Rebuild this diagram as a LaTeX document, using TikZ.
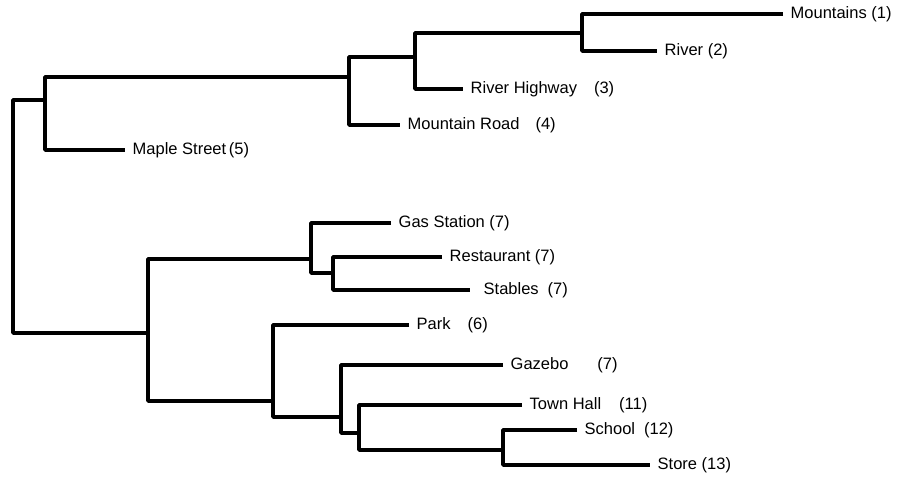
\documentclass[tikz,border=0pt]{standalone}
\usepackage{fontspec}
\setmainfont{Liberation Sans}
\usetikzlibrary{positioning}

\begin{document}
\begin{tikzpicture}[x=1pt, y=-1pt, line width=3.4pt, line join=round,
	every node/.style={font=\fontsize{16.5}{18}\selectfont, anchor=west, inner xsep=6pt, inner ysep=0pt}]
	\useasboundingbox (0,0) rectangle (898,481);
	% leaves, placed where their branches end
	\node (mountains) at (783,14) {Mountains (1)};
	\node (river) at (657,51) {River (2)};
	\node (riverhwy) at (463,89) {River Highway\hspace{17pt}(3)};
	\node (mtnroad) at (400,125) {Mountain Road\hspace{16pt}(4)};
	\node (maple) at (125,150) {Maple Street\,(5)};
	\node (gas) at (391,223) {Gas Station (7)};
	\node (restaurant) at (442,257) {Restaurant (7)};
	\node (stables) at (470,290) {\hspace{6pt}Stables\hspace{9pt}(7)};
	\node (park) at (409,325) {Park\hspace{17pt}(6)};
	\node (gazebo) at (503,365) {Gazebo\hspace{29pt}(7)};
	\node (townhall) at (522,405) {Town Hall\hspace{18pt}(11)};
	\node (school) at (577,430) {School\hspace{9pt}(12)};
	\node (store) at (650,465) {Store (13)};
	% junctions
	\coordinate (mr) at (582,33);
	\coordinate (mrh) at (415,57);
	\coordinate (top) at (349,77);
	\coordinate (north) at (45,100);
	\coordinate (root) at (13,200);
	\coordinate (south) at (148,333);
	\coordinate (service) at (311,259);
	\coordinate (rs) at (333,273);
	\coordinate (town) at (273,401);
	\coordinate (gts) at (341,417);
	\coordinate (tss) at (359,433);
	\coordinate (ss) at (503,450);
	% branches
	\draw (mountains.west) -| (mr) |- (river.west);
	\draw (mr) -| (mrh) |- (riverhwy.west);
	\draw (mrh) -| (top) |- (mtnroad.west);
	\draw (top) -| (north) |- (maple.west);
	\draw (north) -| (root) |- (south);
	\draw (restaurant.west) -| (rs) |- (stables.west);
	\draw (gas.west) -| (service) |- (rs);
	\draw (school.west) -| (ss) |- (store.west);
	\draw (townhall.west) -| (tss) |- (ss);
	\draw (gazebo.west) -| (gts) |- (tss);
	\draw (park.west) -| (town) |- (gts);
	\draw (service) -| (south) |- (town);
\end{tikzpicture}
\end{document}
